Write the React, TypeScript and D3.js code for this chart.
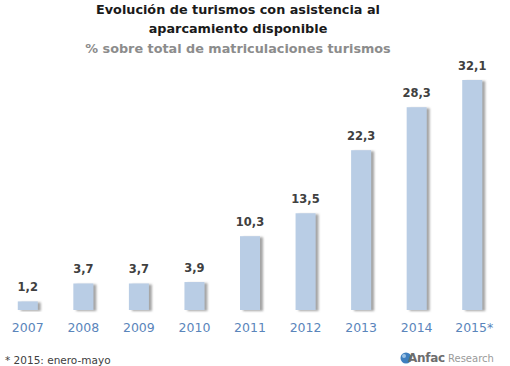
import React from 'react';
import * as d3 from 'd3';

const years = ['2007', '2008', '2009', '2010', '2011', '2012', '2013', '2014', '2015*'];
const values = [1.2, 3.7, 3.7, 3.9, 10.3, 13.5, 22.3, 28.3, 32.1];
const valueLabels = ['1,2', '3,7', '3,7', '3,9', '10,3', '13,5', '22,3', '28,3', '32,1'];

const width = 510;
const height = 366;
const baseline = 310;
const font = '"DejaVu Sans", "Open Sans", sans-serif';

export default function App() {
    // Horizontal band scale for the years
    const x = d3.scaleBand<string>()
        .domain(years)
        .range([0, 500])
        .paddingInner(0.64)
        .paddingOuter(0.32);

    // Vertical scale, percentage
    const y = d3.scaleLinear()
        .domain([0, 32.1])
        .range([baseline, 80]);

    return (
        <svg width={width} height={height} style={{ position: 'absolute', left: 0, top: 0, background: '#fff' }}>
            <defs>
                <filter id="shadow" x="-30%" y="-10%" width="180%" height="130%">
                    <feDropShadow dx="3" dy="1" stdDeviation="1.2" floodColor="#7f7f7f" floodOpacity="0.7" />
                </filter>
            </defs>

            <text x={238} y={14} textAnchor="middle" fontFamily={font} fontSize={12.8} fontWeight="bold" fill="#1a1a1a">
                Evolución de turismos con asistencia al
            </text>
            <text x={238} y={33} textAnchor="middle" fontFamily={font} fontSize={12.8} fontWeight="bold" fill="#1a1a1a">
                aparcamiento disponible
            </text>
            <text x={238} y={53} textAnchor="middle" fontFamily={font} fontSize={12.8} fontWeight="bold" fill="#8c8c8c">
                % sobre total de matriculaciones turismos
            </text>

            {years.map((yr, i) => (
                <g key={yr}>
                    <rect
                        x={x(yr)}
                        y={y(values[i])}
                        width={x.bandwidth()}
                        height={baseline - y(values[i])}
                        fill="#b9cde5"
                        filter="url(#shadow)"
                    />
                    <text
                        x={(x(yr) ?? 0) + x.bandwidth() / 2}
                        y={y(values[i]) - 10}
                        textAnchor="middle"
                        fontFamily={font}
                        fontSize={11.5}
                        fontWeight="bold"
                        fill="#404040"
                    >
                        {valueLabels[i]}
                    </text>
                    <text
                        x={(x(yr) ?? 0) + x.bandwidth() / 2 + (yr.endsWith('*') ? 2 : 0)}
                        y={332}
                        textAnchor="middle"
                        fontFamily={font}
                        fontSize={12.5}
                        fill="#5a85bb"
                    >
                        {yr}
                    </text>
                </g>
            ))}

            <text x={5} y={364} fontFamily={font} fontSize={10.5} fill="#404040">
                * 2015: enero-mayo
            </text>

            {/* Logo */}
            <circle cx={406} cy={358} r={5.5} fill="#3f7fbf" />
            <circle cx={404} cy={356} r={2} fill="#9cc3e6" />
            <text x={408} y={362} fontFamily={font} fontSize={12} fontWeight="bold" fill="#6d6d6d" letterSpacing={-0.3}>
                Anfac
            </text>
            <text x={448} y={362} fontFamily={font} fontSize={10} fill="#9a9a9a">
                Research
            </text>
        </svg>
    );
}
